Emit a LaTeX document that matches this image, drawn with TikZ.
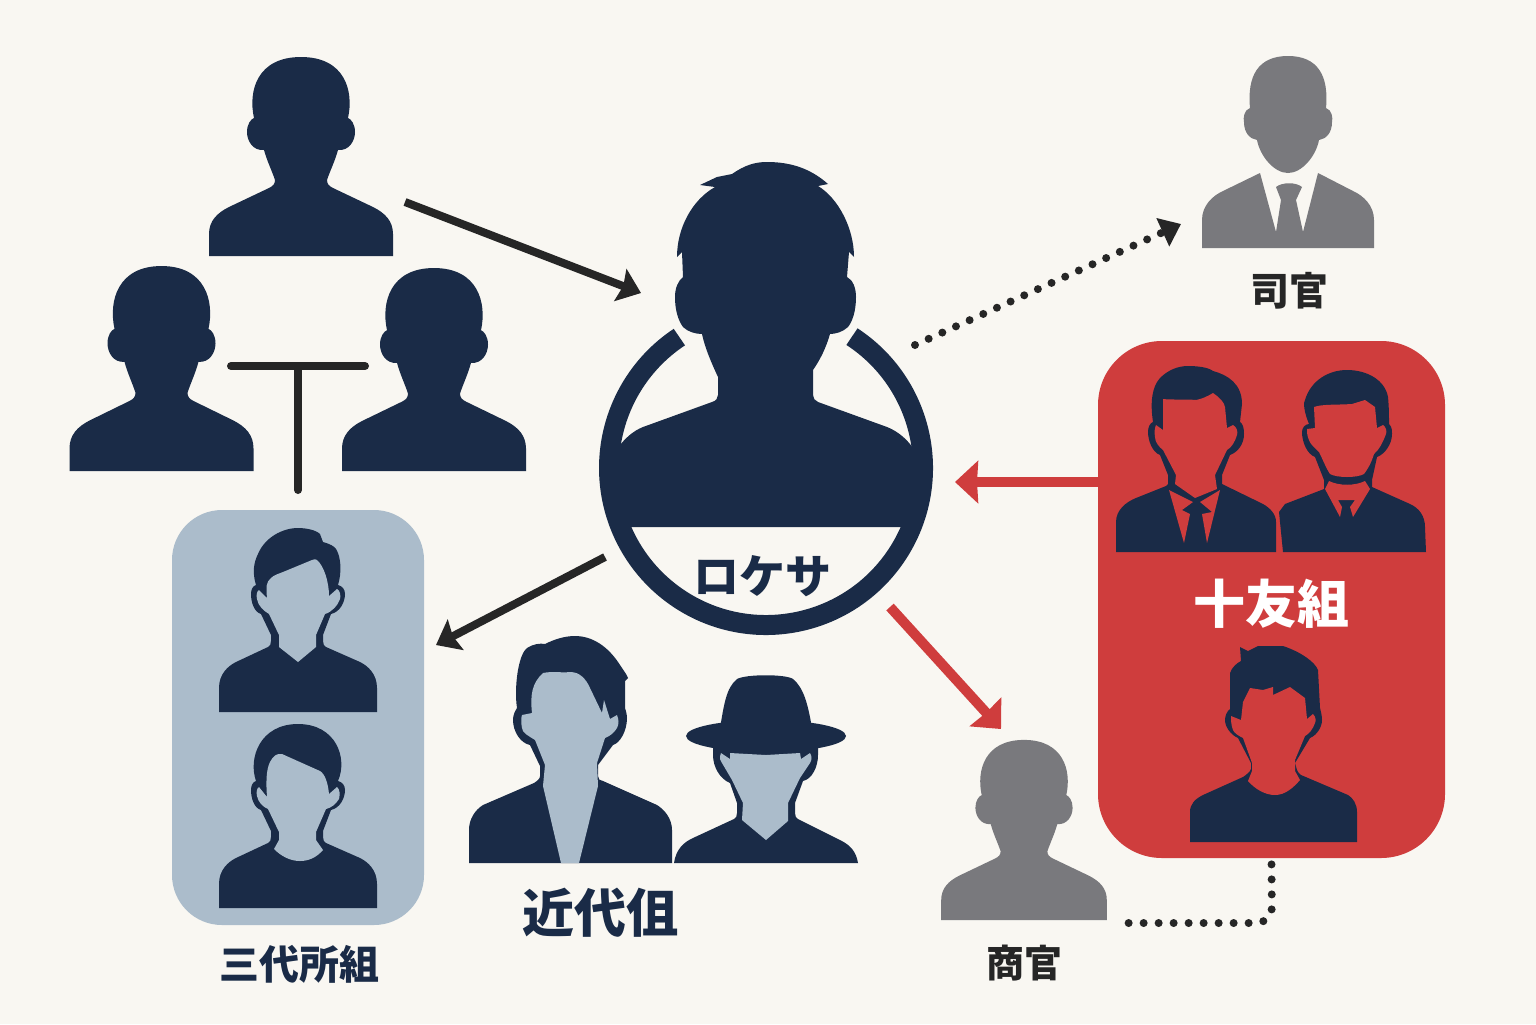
\documentclass[tikz,border=0pt]{standalone}
\usepackage{fontspec}
\usepackage{xcolor}
\usetikzlibrary{positioning, arrows.meta}
\newfontfamily\cjk{Noto Sans CJK JP}
\definecolor{navy}{HTML}{1A2B47}
\definecolor{paper}{HTML}{F9F7F2}
\definecolor{slate}{HTML}{ABBCCB}
\definecolor{redbox}{HTML}{CF3D3D}
\definecolor{greyman}{HTML}{79797D}
\definecolor{ink}{HTML}{262626}
\tikzset{
  figat/.style 2 args={shift={(#1,#2)},yscale=-1},
  blackarrow/.style={ink,line width=4pt,-{Stealth[length=11pt,width=17pt,inset=1.5pt]}},
  redarrow/.style={redbox,line width=5pt,-{Stealth[length=11.5pt,width=21pt,inset=0.5pt]}},
  dotline/.style={ink,line width=4pt,line cap=round,dash pattern=on 0pt off 7.5pt},
  label/.style={font=\cjk\bfseries\fontsize{#1}{#1}\selectfont,inner sep=0pt},
  groupbox/.style={rounded corners=#1,inner sep=0pt},
  solidbust/.pic={
    \fill (-92,0) -- (-92,22) .. controls (-92,35) and (-84,43) .. (-72,49) -- (-32,68)
      .. controls (-28,70) and (-26,72) .. (-26,76) .. controls (-29,85) and (-34,95) .. (-37,106)
      .. controls (-48,105) and (-54,115) .. (-54,124) .. controls (-54,132) and (-50,137) .. (-47,138)
      .. controls (-53,165) and (-44,199) .. (0,199) .. controls (44,199) and (53,165) .. (47,138)
      .. controls (50,137) and (54,132) .. (54,124) .. controls (54,115) and (48,105) .. (37,106)
      .. controls (34,95) and (29,85) .. (26,76) .. controls (26,72) and (28,70) .. (32,68)
      -- (72,49) .. controls (84,43) and (92,35) .. (92,22) -- (92,0) -- cycle;
  }
}
% lower part of the men in the blue box, right ear to left ear
\newcommand{\bluelower}{.. controls (44,126) and (47,123) .. (47,118) .. controls (47,110) and (42,100) .. (33,98)
  -- (25,77) -- (25,71) .. controls (25,68) and (26,66) .. (28,65) -- (62,50) .. controls (70,46) and (79,38) .. (79,24)
  -- (79,0) -- (-79,0) -- (-79,24) .. controls (-79,38) and (-70,46) .. (-62,50) -- (-30,65)
  .. controls (-28,66) and (-27,68) .. (-27,71) -- (-27,77) -- (-37,98) .. controls (-44,100) and (-47,110) .. (-47,118)
  .. controls (-47,123) and (-45,126) .. (-42,127)}
\begin{document}
\begin{tikzpicture}[x=0.5pt,y=-0.5pt]
    \useasboundingbox[fill=paper] (0,0) rectangle (1536,1024);

    % group boxes
    \node[groupbox=25pt,fill=slate,minimum width=126pt,minimum height=207.5pt] (bluebox) at (298,717.5) {};
    \node[groupbox=32pt,fill=redbox,minimum width=173.5pt,minimum height=258.5pt] (friendbox) at (1271.5,599.5) {};

    % plain men
    \pic[color=navy,yscale=-1] at (301,256) {solidbust};
    \pic[color=navy,yscale=-1.03] at (161.5,471) {solidbust};
    \pic[color=navy,yscale=-1.02] at (434,471) {solidbust};
    \pic[color=greyman,xscale=.9,yscale=-.905] at (1024,920) {solidbust};

    % boss
    \fill[navy] (700,185) -- (717,177) -- (732,174) .. controls (745,165) and (755,162) .. (767,162)
      .. controls (790,162) and (810,168) .. (828,184) -- (818,186) .. controls (838,198) and (854,228) .. (854,257)
      -- (849,252) -- (847,277) .. controls (853,280) and (856,288) .. (856,297) .. controls (856,312) and (852,322) .. (848,327)
      .. controls (843,332) and (835,334) .. (830,334) .. controls (826,348) and (820,360) .. (813,370) -- (813,395)
      .. controls (813,398) and (815,401) .. (818,402) -- (887,427) .. controls (897,431) and (906,438) .. (913,448)
      -- (921,527) -- (612,527) -- (616,450) .. controls (625,438) and (633,431) .. (643,427) -- (712,402)
      .. controls (716,401) and (718,398) .. (718,395) -- (718,377) .. controls (711,362) and (705,348) .. (702,334)
      .. controls (696,334) and (688,332) .. (683,327) .. controls (678,320) and (675,310) .. (675,297)
      .. controls (675,288) and (678,281) .. (683,277) -- (682,252) -- (677,257) .. controls (677,228) and (692,200) .. (715,187) -- cycle;
    \draw[navy,line width=10pt] (766,468) ++(-56.8:157) arc[start angle=-56.8,end angle=236.5,radius=157];
    \node[label=23pt,text=navy] (bossname) at (762,576) {ロケサ};

    % grey man in suit
    \begin{scope}[figat={1288}{248}]
      \fill[greyman] (0,192) .. controls (-30,192) and (-41,172) .. (-38,140) .. controls (-44,138) and (-45,130) .. (-44,126)
        .. controls (-44,115) and (-38,109) .. (-31,108) .. controls (-28,92) and (-14,75) .. (0,75)
        .. controls (14,75) and (28,92) .. (31,108) .. controls (38,109) and (44,115) .. (44,126)
        .. controls (45,130) and (44,138) .. (38,140) .. controls (41,172) and (30,192) .. (0,192) -- cycle;
      \fill[greyman] (-86,0) -- (-86,28) .. controls (-86,42) and (-76,52) .. (-65,57) -- (-28,75) -- (-12,16) -- (-7,48)
        -- (-12,61) .. controls (-6,66) and (8,66) .. (14,61) -- (8,48) -- (15,16) -- (30,75) -- (65,57)
        .. controls (76,52) and (86,42) .. (86,28) -- (86,0) -- cycle;
    \end{scope}
    \node[label=19.5pt,text=ink] (sikan) at (1289,291) {司官};

    % man in the blue box, v-neck
    \begin{scope}[figat={298}{712}]
      \fill[navy] (-42,127) .. controls (-46,140) and (-44,150) .. (-40,158) .. controls (-33,175) and (-15,184) .. (0,184)
        .. controls (8,184) and (18,182) .. (22,178) -- (25,170) .. controls (32,168) and (36,166) .. (38,163)
        .. controls (43,155) and (44,140) .. (40,127) \bluelower -- cycle;
      \fill[slate] (-31,114) .. controls (-32,125) and (-32,130) .. (-27,134) .. controls (-24,137) and (-20,138) .. (-15,140)
        -- (14,152) .. controls (16,153) and (18,153) .. (19,152) .. controls (26,146) and (31,130) .. (31,116) -- (39,123)
        .. controls (42,122) and (43,116) .. (42,113) .. controls (40,107) and (34,100) .. (27,98) -- (18,77) -- (18,65)
        -- (0,50) -- (-19,65) -- (-19,77) -- (-29,98) .. controls (-34,101) and (-40,106) .. (-41,113)
        .. controls (-42,117) and (-41,121) .. (-39,122) -- cycle;
    \end{scope}
    % man in the blue box, round neck
    \begin{scope}[figat={298}{908}]
      \fill[navy] (-42,127) .. controls (-50,150) and (-38,184) .. (0,184) .. controls (38,184) and (50,150) .. (40,127) \bluelower -- cycle;
      \fill[slate] (-31,111) .. controls (-32,125) and (-32,138) .. (-28,146) .. controls (-25,152) and (-21,155) .. (-16,154)
        -- (22,137) .. controls (27,134) and (30,125) .. (31,114) -- (39,121) .. controls (42,119) and (42,113) .. (41,109)
        .. controls (38,104) and (33,100) .. (28,99) -- (18,76) -- (18,68) -- (25,58) .. controls (18,50) and (10,47) .. (2,47)
        .. controls (-8,47) and (-17,52) .. (-24,59) -- (-19,68) -- (-19,76) -- (-30,99) .. controls (-35,101) and (-40,106) .. (-41,112)
        .. controls (-42,116) and (-41,120) .. (-39,121) -- cycle;
    \end{scope}
    \node[label=20pt,text=navy] (sandai) at (299,964) {三代所組};

    % long v man
    \begin{scope}[figat={570}{863}]
      \fill[navy] (-101,0) -- (-101,33) .. controls (-101,44) and (-95,53) .. (-87,58) -- (-36,80) .. controls (-33,82) and (-30,84) .. (-30,87)
        -- (-30,97) -- (-40,118) .. controls (-50,120) and (-57,132) .. (-57,143) .. controls (-57,148) and (-55,152) .. (-53,155)
        .. controls (-56,175) and (-52,208) .. (-43,215) .. controls (-37,219) and (-30,220) .. (-25,219) .. controls (-15,224) and (-5,227) .. (5,227)
        .. controls (22,227) and (38,217) .. (50,198) .. controls (54,192) and (57,188) .. (58,185) -- (55,182) -- (55,155) .. controls (56,152) and (57,148) .. (57,145)
        .. controls (57,132) and (50,120) .. (43,118) -- (28,98) -- (28,87) .. controls (28,84) and (30,82) .. (33,82) -- (87,58)
        .. controls (95,53) and (102,44) .. (102,33) -- (102,0) -- cycle;
      \fill[slate] (-38,150) .. controls (-40,168) and (-38,180) .. (-27,190) .. controls (-18,192) and (-8,190) .. (0,191)
        .. controls (10,191) and (16,184) .. (20,175) -- (32,150) -- (34,163) -- (40,144) -- (47,148) .. controls (49,143) and (49,139) .. (47,135)
        .. controls (44,130) and (40,127) .. (35,125) -- (27,100) -- (28,77) -- (9,0) -- (-9,0) -- (-27,77) -- (-25,98) -- (-35,123)
        .. controls (-41,127) and (-48,130) .. (-48,135) .. controls (-49,140) and (-49,145) .. (-48,148) -- cycle;
    \end{scope}
    % man with hat
    \begin{scope}[figat={766}{863}]
      \fill[navy] (-92,0) .. controls (-90,14) and (-82,21) .. (-73,25) -- (-32,44) .. controls (-30,45) and (-29,47) .. (-29,50) -- (-29,60) -- (-36,80)
        .. controls (-46,84) and (-53,96) .. (-53,108) -- (-53,115) -- (52,115) -- (52,108) .. controls (52,96) and (46,84) .. (37,82)
        -- (29,60) -- (29,50) .. controls (29,47) and (30,45) .. (32,44) -- (74,23) .. controls (84,18) and (90,12) .. (92,0) -- cycle;
      \fill[navy] (0,127) ellipse [x radius=80,y radius=16];
      \fill[navy] (-46,135) .. controls (-42,158) and (-40,175) .. (-29,184) .. controls (-20,189) and (20,189) .. (27,184)
        .. controls (38,175) and (42,158) .. (46,135) -- cycle;
      \fill[slate] (-36,110) -- (-36,104) -- (-45,110) .. controls (-47,105) and (-46,102) .. (-44,100) -- (-34,83) -- (-23,60) -- (-24,43)
        -- (0,23) -- (22,42) -- (22,60) -- (34,85) -- (44,100) .. controls (46,103) and (46,107) .. (44,110) -- (35,104) -- (34,110) -- (0,108) -- cycle;
    \end{scope}
    \node[label=26pt,text=navy] (kindai) at (600,913) {近代伹};

    % men in the red box
    \begin{scope}[figat={1196}{552}]
      \fill[navy] (-80,0) -- (-80,30) .. controls (-80,42) and (-70,50) .. (-60,54) -- (-30,66) -- (-28,68) -- (-28,77) -- (-36,97)
        .. controls (-44,100) and (-48,112) .. (-48,120) .. controls (-48,125) and (-46,129) .. (-43,130) .. controls (-46,150) and (-44,165) .. (-36,174)
        .. controls (-28,182) and (-18,186) .. (-8,186) .. controls (0,186) and (12,185) .. (17,181) .. controls (32,177) and (46,168) .. (46,148)
        -- (44,130) .. controls (47,128) and (48,124) .. (48,118) .. controls (48,108) and (42,100) .. (34,97) -- (26,77) -- (26,68) -- (67,48)
        .. controls (74,44) and (80,38) .. (80,30) -- (80,0) -- cycle;
      \fill[redbox] (-33,122) -- (-33,153) .. controls (-25,152) and (-10,153) .. (0,152) .. controls (6,153) and (12,156) .. (17,159)
        .. controls (24,154) and (28,150) .. (29,145) -- (31,124) -- (37,127) .. controls (41,125) and (42,120) .. (41,117)
        .. controls (39,110) and (35,104) .. (31,102) -- (19,77) -- (21,63) -- (-1,54) -- (-21,68) -- (-20,77) -- (-33,102)
        .. controls (-37,105) and (-41,110) .. (-41,115) .. controls (-42,120) and (-41,125) .. (-40,127) -- cycle;
      \fill[redbox] (-27,62) -- (-12,9) -- (-6,38) -- (-14,42) -- (-3,50) -- cycle;
      \fill[redbox] (24,62) -- (11,9) -- (6,38) -- (16,40) -- (4,50) -- cycle;
    \end{scope}
    \begin{scope}[figat={1347}{552}]
      \fill[navy] (-64,0) -- (-68,40) -- (-62,48) -- (-23,63) -- (-23,72) -- (-32,95) .. controls (-40,98) and (-45,110) .. (-45,120)
        .. controls (-45,124) and (-42,128) .. (-38,128) .. controls (-43,140) and (-44,150) .. (-42,152) .. controls (-36,172) and (-18,182) .. (0,182)
        .. controls (20,182) and (38,172) .. (41,155) .. controls (42,145) and (42,135) .. (42,128) .. controls (45,125) and (45,122) .. (45,118)
        .. controls (45,108) and (38,98) .. (30,95) -- (25,72) -- (25,65) -- (63,48) .. controls (72,44) and (78,36) .. (78,25) -- (79,0) -- cycle;
      \fill[redbox] (-32,124) -- (-33,145) .. controls (-25,148) and (-10,147) .. (5,148) -- (18,152) -- (28,145) -- (30,124) -- (36,127)
        .. controls (39,125) and (40,121) .. (39,118) .. controls (36,110) and (32,102) .. (27,98) .. controls (24,88) and (20,82) .. (17,78)
        .. controls (10,74) and (-10,74) .. (-17,78) .. controls (-21,84) and (-24,92) .. (-28,100) .. controls (-32,104) and (-37,108) .. (-38,112)
        .. controls (-40,116) and (-40,120) .. (-40,123) -- cycle;
      \fill[redbox] (-22,63) -- (-18,71) .. controls (-8,66) and (8,66) .. (18,71) -- (23,63) -- (6,35) -- (3,45) -- (8,52) -- (-9,52) -- (-5,45) -- (-7,35) -- cycle;
    \end{scope}
    \node[label=26pt,text=white] (friendname) at (1271,604) {十友組};
    \begin{scope}[figat={1273}{842}]
      \fill[navy] (-83,0) -- (-83,30) .. controls (-83,38) and (-78,43) .. (-70,47) -- (-30,65) .. controls (-27,67) and (-23,70) .. (-22,73) -- (-22,79) -- (-35,104)
        .. controls (-42,107) and (-48,115) .. (-48,122) .. controls (-48,126) and (-46,131) .. (-43,133) -- (-43,169) .. controls (-41,175) and (-36,179) .. (-32,181)
        -- (-33,195) -- (-25,191) -- (-15,196) -- (10,196) .. controls (28,190) and (42,180) .. (45,172) -- (47,134) .. controls (48,130) and (49,126) .. (49,122)
        .. controls (49,115) and (44,107) .. (37,104) -- (22,79) -- (24,72) .. controls (25,70) and (26,68) .. (28,67) -- (75,47) .. controls (80,44) and (84,38) .. (84,30) -- (84,0) -- cycle;
      \fill[redbox] (-32,122) -- (-30,140) -- (-23,154) -- (-10,152) -- (0,155) -- (0,147) -- (17,155) -- (32,144) -- (34,123) -- (40,128)
        .. controls (43,125) and (43,121) .. (42,119) .. controls (40,113) and (36,108) .. (32,106) -- (22,82) -- (22,71) -- (27,62)
        .. controls (20,54) and (12,47) .. (2,47) .. controls (-8,47) and (-18,53) .. (-25,61) -- (-21,71) -- (-21,79) -- (-30,104)
        .. controls (-34,106) and (-39,109) .. (-40,112) .. controls (-42,117) and (-42,122) .. (-42,126) -- cycle;
    \end{scope}
    \node[label=19pt,text=ink] (shokan) at (1024,963) {商官};

    % connectors
    \coordinate (topout) at (405,202);
    \coordinate (bossin) at (641,293);
    \draw[blackarrow] (topout) -- (bossin);

    \coordinate (tleft) at (231,366);
    \coordinate (tright) at (365,366);
    \coordinate (tmid) at (298,366);
    \coordinate (tfoot) at (298,490);
    \draw[ink,line width=4pt,line cap=round] (tleft) -- (tright);
    \draw[ink,line width=4pt,line cap=round] (tmid) -- (tfoot);

    \coordinate (bossdown) at (605,557);
    \coordinate (bluein) at (436,645);
    \draw[blackarrow] (bossdown) -- (bluein);

    \coordinate (bossdot) at (915,345);
    \coordinate (sikanin) at (1181,224);
    \draw[dotline,-{Stealth[length=10pt,width=15pt,inset=0pt]}] (bossdot) -- (sikanin);

    \coordinate (bossred) at (955,482);
    \draw[redarrow] (friendbox.west |- bossred) -- (bossred);

    \coordinate (bossside) at (890,607);
    \coordinate (shokanin) at (1001,729);
    \draw[redarrow] (bossside) -- (shokanin);

    \coordinate (shokanout) at (1122,923);
    \draw[dotline,rounded corners=8pt] ([yshift=-3pt]friendbox.south) -- (1272,923) -- (shokanout);
\end{tikzpicture}
\end{document}
